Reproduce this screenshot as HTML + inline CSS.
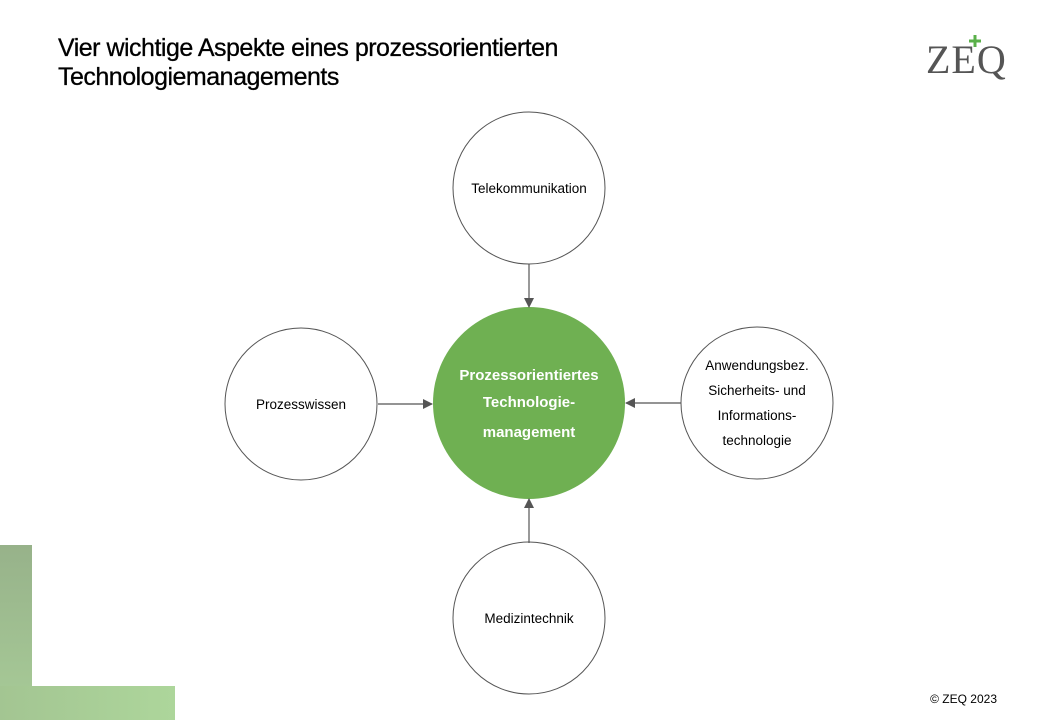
<!DOCTYPE html>
<html><head><meta charset="utf-8"><style>
body{margin:0;width:1040px;height:720px;overflow:hidden;background:#fff;font-family:"Liberation Sans","DejaVu Sans",sans-serif;}
.t{position:absolute;left:58px;top:34px;font-size:25px;line-height:29px;color:#000;letter-spacing:-0.5px;-webkit-text-stroke:0.3px #000}
</style></head><body>
<div class="t">Vier wichtige Aspekte eines prozessorientierten<br>Technologiemanagements</div>
<div style="position:absolute;left:0;top:545px;width:32px;height:175px;background:linear-gradient(180deg,#97b28a,#a8cc98)"></div>
<div style="position:absolute;left:0;top:686px;width:175px;height:34px;background:linear-gradient(90deg,#a3c592,#add69b)"></div>
<svg width="1040" height="720" style="position:absolute;left:0;top:0">
<defs><marker id="a" markerWidth="10" markerHeight="10" refX="9" refY="5" orient="auto" markerUnits="userSpaceOnUse"><path d="M0,0 L10,5 L0,10z" fill="#555"/></marker></defs>
<text x="926" y="73" font-family="Liberation Serif,serif" font-size="40" fill="#555" letter-spacing="1">ZEQ</text>
<path d="M975 35v12M969 41h12" stroke="#5ab04a" stroke-width="3"/>
<g fill="#fff" stroke="#555" stroke-width="1">
<circle cx="529" cy="188" r="76"/><circle cx="301" cy="404" r="76"/><circle cx="757" cy="403" r="76"/><circle cx="529" cy="618" r="76"/>
</g>
<circle cx="529" cy="403" r="96" fill="#6fb052"/>
<g stroke="#555" stroke-width="1.2" marker-end="url(#a)">
<line x1="529" y1="264" x2="529" y2="307"/><line x1="378" y1="404" x2="432" y2="404"/>
<line x1="681" y1="403" x2="626" y2="403"/><line x1="529" y1="543" x2="529" y2="499"/>
</g>
<g font-size="13.5" text-anchor="middle" fill="#000">
<text x="529" y="193">Telekommunikation</text>
<text x="301" y="409">Prozesswissen</text>
<text x="529" y="623">Medizintechnik</text>
<text x="757" y="370">Anwendungsbez.</text>
<text x="757" y="395">Sicherheits- und</text>
<text x="757" y="420">Informations-</text>
<text x="757" y="445">technologie</text>
</g>
<g font-size="15" font-weight="bold" text-anchor="middle" fill="#fff">
<text x="529" y="380">Prozessorientiertes</text>
<text x="529" y="407">Technologie-</text>
<text x="529" y="437">management</text>
</g>
<text x="997" y="703" font-size="12" text-anchor="end">© ZEQ  2023</text>
</svg>
</body></html>
